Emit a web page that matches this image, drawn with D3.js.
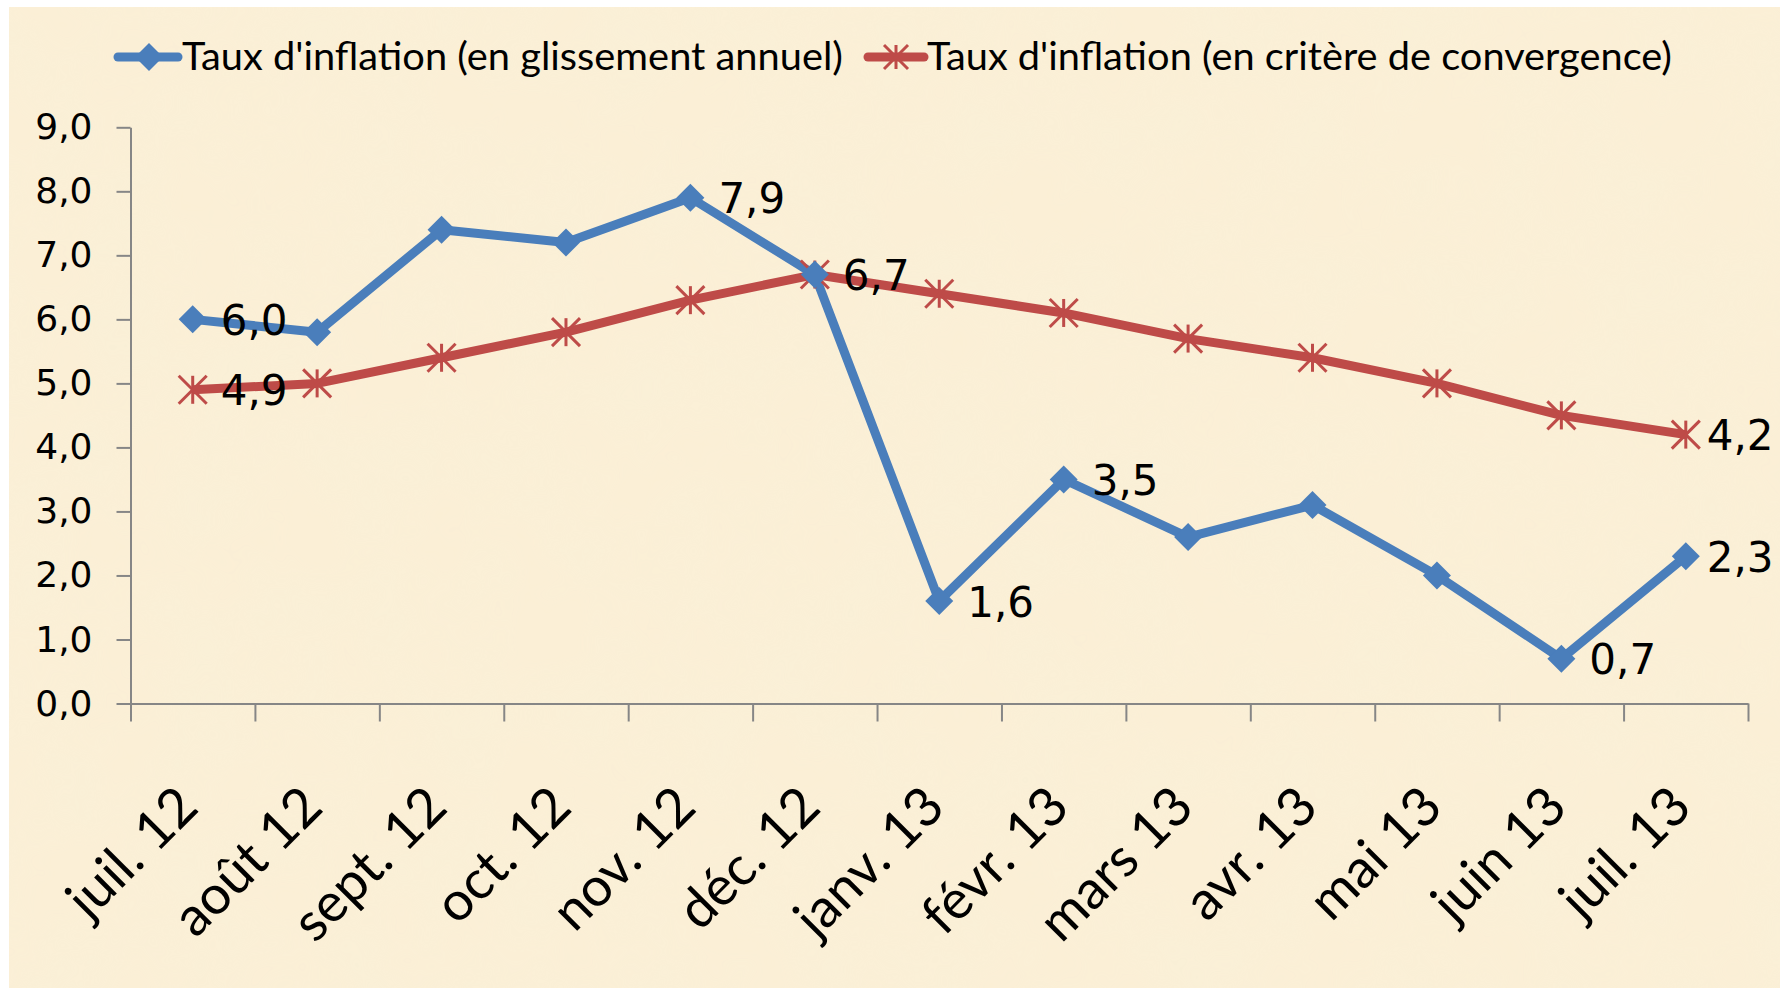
<!DOCTYPE html>
<html>
<head>
<meta charset="utf-8">
<script src="https://cdn.jsdelivr.net/npm/d3@7"></script>
<style>
  body { margin: 0; background: #ffffff; }
  svg { display: block; }
  .axis path, .axis line { stroke: #868686; stroke-width: 2; }
  .axis text { font-family: "DejaVu Sans", Verdana, sans-serif; font-size: 36px; fill: #000; }
</style>
</head>
<body>
<svg id="chart" width="1780" height="991"></svg>
<script>
var categories = ["juil. 12", "août 12", "sept. 12", "oct. 12", "nov. 12", "déc. 12",
  "janv. 13", "févr. 13", "mars 13", "avr. 13", "mai 13", "juin 13", "juil. 13"];
var glissement = [6.0, 5.8, 7.4, 7.2, 7.9, 6.7, 1.6, 3.5, 2.6, 3.1, 2.0, 0.7, 2.3];
var convergence = [4.9, 5.0, 5.4, 5.8, 6.3, 6.7, 6.4, 6.1, 5.7, 5.4, 5.0, 4.5, 4.2];
var yTicks = [0, 1, 2, 3, 4, 5, 6, 7, 8, 9];
// which points carry a data label
var labelsGlissement = [0, 4, 6, 7, 11, 12];
var labelsConvergence = [0, 5, 12];
var seriesNames = ["Taux d'inflation (en glissement annuel)", "Taux d'inflation (en critère de convergence)"];

var BLUE = "#4a7ebb", RED = "#be4b48";
var svg = d3.select("#chart");

function fmt(v) { return v.toFixed(1).replace(".", ","); }

// parchment background
var defs = svg.append("defs");
var f = defs.append("filter").attr("id", "paper").attr("x", 0).attr("y", 0).attr("width", 1).attr("height", 1);
f.append("feTurbulence").attr("type", "fractalNoise").attr("baseFrequency", "0.012").attr("numOctaves", 3).attr("seed", 7);
f.append("feColorMatrix").attr("type", "matrix")
  .attr("values", "0 0 0 0 0.93  0 0 0 0 0.89  0 0 0 0 0.70  0 0 0 -1.1 0.8");
svg.append("rect").attr("x", 9).attr("y", 7).attr("width", 1771).attr("height", 981).attr("fill", "#fbefd6");
svg.append("rect").attr("x", 9).attr("y", 7).attr("width", 1771).attr("height", 981)
  .attr("filter", "url(#paper)").attr("opacity", 0.4);

var plotLeft = 130.5, plotRight = 1748, plotBottom = 703.5, plotTop = 127.3;
var xb = d3.scaleLinear().domain([0, categories.length]).range([plotLeft, plotRight]);
var y = d3.scaleLinear().domain([0, 9]).range([plotBottom, plotTop]);
function cx(i) { return xb(i + 0.5); }

// axes
svg.append("g").attr("class", "axis")
  .attr("transform", "translate(" + plotLeft + ",0)")
  .call(d3.axisLeft(y).tickValues(yTicks).tickSizeInner(14).tickSizeOuter(0).tickPadding(24).tickFormat(fmt));

svg.append("g").attr("class", "axis")
  .attr("transform", "translate(0," + plotBottom + ")")
  .call(d3.axisBottom(xb).tickValues(d3.range(categories.length + 1)).tickSizeInner(18).tickSizeOuter(0).tickFormat(""));

svg.append("g").selectAll("text")
  .data(categories)
  .enter().append("text")
  .attr("transform", function(d, i) { return "translate(" + (cx(i) + 8) + "," + (plotBottom + 106) + ") rotate(-45)"; })
  .attr("text-anchor", "end")
  .attr("font-family", "Lato, 'Open Sans', sans-serif")
  .attr("font-size", 54)
  .attr("fill", "#000")
  .text(function(d) { return d; });

// lines
var line = d3.line().x(function(d, i) { return cx(i); }).y(function(d) { return y(d); });

svg.append("path").datum(convergence)
  .attr("d", line).attr("fill", "none").attr("stroke", RED).attr("stroke-width", 9).attr("stroke-linejoin", "round");
svg.append("path").datum(glissement)
  .attr("d", line).attr("fill", "none").attr("stroke", BLUE).attr("stroke-width", 9).attr("stroke-linejoin", "round");

function star(g, s) {
  g.append("line").attr("x1", 0).attr("y1", -s).attr("x2", 0).attr("y2", s);
  g.append("line").attr("x1", -s).attr("y1", -s).attr("x2", s).attr("y2", s);
  g.append("line").attr("x1", -s).attr("y1", s).attr("x2", s).attr("y2", -s);
}

svg.append("g").attr("stroke", RED).attr("stroke-width", 3)
  .selectAll("g").data(convergence).enter().append("g")
  .attr("transform", function(d, i) { return "translate(" + cx(i) + "," + y(d) + ")"; })
  .each(function() { star(d3.select(this), 14); });

var diamond = "M0,-14L14,0L0,14L-14,0Z";
svg.append("g").selectAll("path").data(glissement).enter().append("path")
  .attr("d", diamond).attr("fill", BLUE)
  .attr("transform", function(d, i) { return "translate(" + cx(i) + "," + y(d) + ")"; });

// data labels (the last column is pulled in a little to stay inside the chart)
function dataLabels(values, idx) {
  svg.append("g").selectAll("text").data(idx).enter().append("text")
    .attr("x", function(i) { return cx(i) + (i === categories.length - 1 ? 21 : 28); })
    .attr("y", function(i) { return y(values[i]); })
    .attr("dy", "0.37em")
    .attr("font-family", "'DejaVu Sans', Verdana, sans-serif")
    .attr("font-size", 42)
    .attr("fill", "#000")
    .text(function(i) { return fmt(values[i]); });
}
dataLabels(glissement, labelsGlissement);
dataLabels(convergence, labelsConvergence);

// legend
var lg = svg.append("g");
lg.append("line").attr("x1", 118).attr("x2", 178).attr("y1", 57).attr("y2", 57)
  .attr("stroke", BLUE).attr("stroke-width", 9).attr("stroke-linecap", "round");
lg.append("path").attr("d", diamond).attr("fill", BLUE).attr("transform", "translate(149,57)");
lg.append("text").attr("x", 182).attr("y", 70).attr("font-family", "Lato, 'Open Sans', sans-serif")
  .attr("font-size", 38).attr("textLength", 661).attr("lengthAdjust", "spacingAndGlyphs").text(seriesNames[0]);

lg.append("line").attr("x1", 868).attr("x2", 924).attr("y1", 57).attr("y2", 57)
  .attr("stroke", RED).attr("stroke-width", 9).attr("stroke-linecap", "round");
var ls = lg.append("g").attr("stroke", RED).attr("stroke-width", 3).attr("transform", "translate(896,57)");
star(ls, 12);
lg.append("text").attr("x", 927).attr("y", 70).attr("font-family", "Lato, 'Open Sans', sans-serif")
  .attr("font-size", 38).attr("textLength", 745).attr("lengthAdjust", "spacingAndGlyphs").text(seriesNames[1]);
</script>
</body>
</html>
